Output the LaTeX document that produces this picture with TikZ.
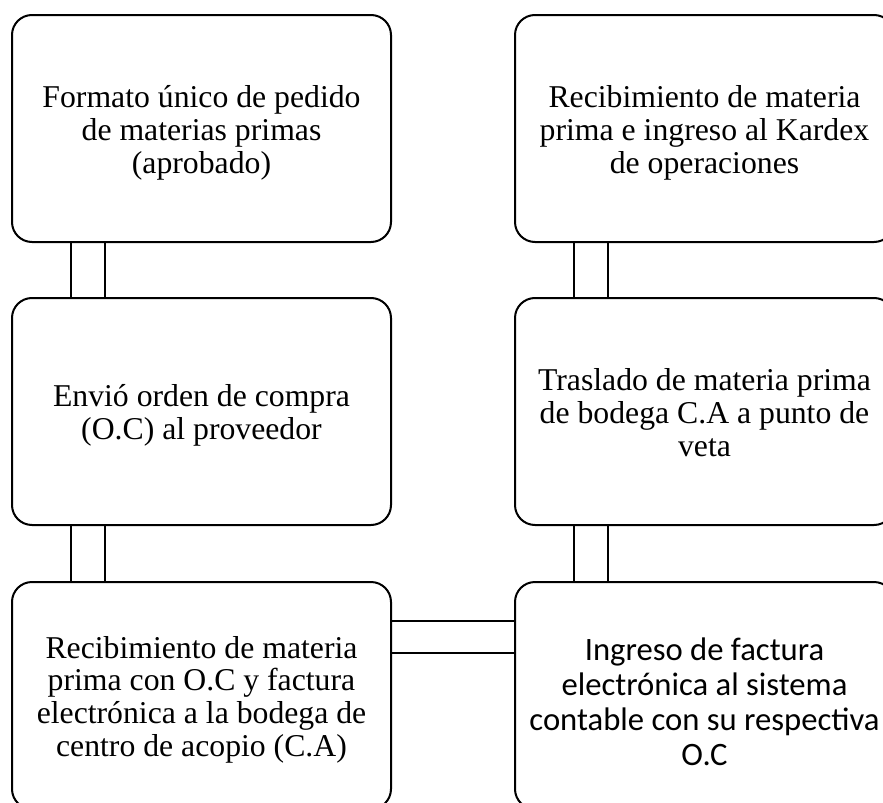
\documentclass[tikz,border=0pt]{standalone}
\usepackage{fontspec}
\setmainfont{Liberation Serif}
\newfontfamily\calibrifont{Carlito}
\newcommand{\steptext}[1]{\rule{0pt}{24.75pt}#1\rule[-7pt]{0pt}{7pt}}
\newcommand{\calitext}[1]{\rule{0pt}{32.5pt}#1\rule[-6pt]{0pt}{6pt}}

\begin{document}
\begin{tikzpicture}[x=0.75pt,y=0.75pt,yscale=-1,xscale=1,
	stepbox/.style={draw, line width=1.5pt, rounded corners=15pt, minimum width=284.25pt, minimum height=170.25pt, align=center, inner sep=0pt, font=\fontsize{23.8}{24.6}\selectfont},
	link/.style={line width=1pt}]
	\useasboundingbox (0,0) rectangle (883,803);
	\clip (0,0) rectangle (883,803);
	
	%Shape: Rounded Rect [id:pedido] 
	\node [stepbox] (pedido) at (201.5,128.5) {\steptext{Formato único de pedido\\de materias primas\\(aprobado)}};
	%Shape: Rounded Rect [id:envio] 
	\node [stepbox] (envio) at (201.5,411.5) {\steptext{Envió orden de compra\\(O.C) al proveedor}};
	%Shape: Rounded Rect [id:recibo] 
	\node [stepbox] (recibo) at (201.5,695.5) {\steptext{Recibimiento de materia\\prima con O.C y factura\\electrónica a la bodega de\\centro de acopio (C.A)}};
	%Shape: Rounded Rect [id:factura] 
	\node [stepbox, font=\calibrifont\fontsize{24.5}{26.3}\selectfont] (factura) at (704.5,695.5) {\calitext{Ingreso de factura\\electrónica al sistema\\contable con su respectiva\\O.C}};
	%Shape: Rounded Rect [id:traslado] 
	\node [stepbox] (traslado) at (704.5,411.5) {\steptext{Traslado de materia prima\\de bodega C.A a punto de\\veta}};
	%Shape: Rounded Rect [id:kardex] 
	\node [stepbox] (kardex) at (704.5,128.5) {\steptext{Recibimiento de materia\\prima e ingreso al Kardex\\de operaciones}};
	
	%Straight Lines [id:pedido-envio] 
	\draw [link] ([xshift=45pt]pedido.south west) -- ([xshift=45pt]envio.north west) ;
	\draw [link] ([xshift=70.5pt]pedido.south west) -- ([xshift=70.5pt]envio.north west) ;
	%Straight Lines [id:envio-recibo] 
	\draw [link] ([xshift=45pt]envio.south west) -- ([xshift=45pt]recibo.north west) ;
	\draw [link] ([xshift=70.5pt]envio.south west) -- ([xshift=70.5pt]recibo.north west) ;
	%Straight Lines [id:recibo-factura] 
	\draw [link] ([yshift=30pt]recibo.north east) -- ([yshift=30pt]factura.north west) ;
	\draw [link] ([yshift=54pt]recibo.north east) -- ([yshift=54pt]factura.north west) ;
	%Straight Lines [id:factura-traslado] 
	\draw [link] ([xshift=45pt]traslado.south west) -- ([xshift=45pt]factura.north west) ;
	\draw [link] ([xshift=70.5pt]traslado.south west) -- ([xshift=70.5pt]factura.north west) ;
	%Straight Lines [id:traslado-kardex] 
	\draw [link] ([xshift=45pt]kardex.south west) -- ([xshift=45pt]traslado.north west) ;
	\draw [link] ([xshift=70.5pt]kardex.south west) -- ([xshift=70.5pt]traslado.north west) ;
\end{tikzpicture}
\end{document}
